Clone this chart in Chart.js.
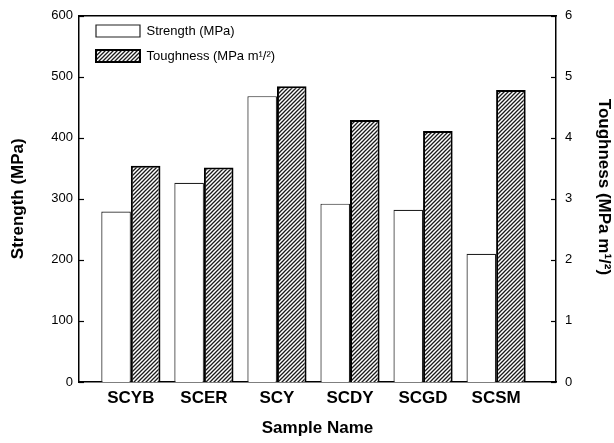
<!DOCTYPE html>
<html>
<head>
<meta charset="utf-8">
<script src="https://cdn.jsdelivr.net/npm/chart.js@4/dist/chart.umd.min.js"></script>
<style>
  html, body { margin: 0; padding: 0; background: #fff; }
  #wrap { width: 614px; height: 443px; }
</style>
</head>
<body>
<div id="wrap"><canvas id="c" width="614" height="443"></canvas></div>
<script>
const categories = ['SCYB', 'SCER', 'SCY', 'SCDY', 'SCGD', 'SCSM'];
const strength = [279, 326, 468, 292, 282, 210];
const toughness = [3.54, 3.51, 4.84, 4.29, 4.11, 4.78];
const strengthTicks = [0, 100, 200, 300, 400, 500, 600];
const toughnessTicks = [0, 1, 2, 3, 4, 5, 6];

function hatch() {
  const c = document.createElement('canvas');
  c.width = 4; c.height = 4;
  const g = c.getContext('2d');
  g.fillStyle = '#ffffff';
  g.fillRect(0, 0, 4, 4);
  g.strokeStyle = '#1a1a1a';
  g.lineWidth = 1.3;
  g.beginPath();
  g.moveTo(0, 4); g.lineTo(4, 0);
  g.moveTo(-1, 1); g.lineTo(1, -1);
  g.moveTo(3, 5); g.lineTo(5, 3);
  g.stroke();
  return g.createPattern(c, 'repeat');
}

const font = 'Liberation Sans, Arial, Helvetica, sans-serif';

// draws short inward tick marks on both value axes, at the scales' own tick values
const inwardTicks = {
  id: 'inwardTicks',
  afterDraw(chart) {
    const ctx = chart.ctx;
    ctx.save();
    ctx.strokeStyle = '#000';
    ctx.lineWidth = 1.2;
    [['y', 1], ['y2', -1]].forEach(([id, dir]) => {
      const s = chart.scales[id];
      const x0 = dir > 0 ? chart.chartArea.left : chart.chartArea.right;
      s.ticks.forEach(t => {
        const py = Math.round(s.getPixelForValue(t.value)) + 0.5;
        ctx.beginPath();
        ctx.moveTo(x0, py);
        ctx.lineTo(x0 + dir * 5, py);
        ctx.stroke();
      });
    });
    ctx.restore();
  }
};

// moves the legend block inside the plot frame
const legendInset = {
  id: 'legendInset',
  afterLayout(chart) {
    const lg = chart.legend;
    if (!lg) return;
    lg.left = chart.chartArea.left + 5;
    lg.top = chart.chartArea.top - 3;
  }
};

new Chart(document.getElementById('c'), {
  type: 'bar',
  plugins: [inwardTicks, legendInset],
  data: {
    datasets: [
      {
        label: 'Strength (MPa)',
        data: strength.map((v, i) => ({ x: i, y: v })),
        backgroundColor: '#ffffff',
        borderColor: '#222222',
        borderWidth: 1.2,
        yAxisID: 'y',
        xAxisID: 'x'
      },
      {
        label: 'Toughness (MPa m¹/²)',
        data: toughness.map((v, i) => ({ x: i, y: v })),
        backgroundColor: hatch(),
        borderColor: '#000000',
        borderWidth: 2,
        yAxisID: 'y2',
        xAxisID: 'x'
      }
    ]
  },
  options: {
    responsive: false,
    animation: false,
    devicePixelRatio: 1,
    layout: { padding: { top: 5, left: 0, right: 0, bottom: 0 } },
    datasets: { bar: { categoryPercentage: 0.81, barPercentage: 1.0 } },
    plugins: {
      tooltip: { enabled: false },
      legend: {
        position: 'chartArea',
        align: 'start',
        labels: {
          boxWidth: 44,
          boxHeight: 12,
          padding: 12,
          color: '#000',
          font: { family: font, size: 13 }
        }
      }
    },
    scales: {
      x: {
        type: 'linear',
        position: 'bottom',
        min: -0.71,
        max: 5.82,
        offset: false,
        afterBuildTicks: (s) => { s.ticks = categories.map((_, i) => ({ value: i })); },
        afterFit: (s) => { s.height = 61; },
        grid: { display: false, drawTicks: false },
        border: { display: true, color: '#000', width: 1.5 },
        ticks: {
          color: '#000',
          padding: 6,
          maxRotation: 0,
          autoSkip: false,
          font: { family: font, size: 17, weight: 'bold' },
          callback: (v) => categories[v]
        },
        title: {
          display: true,
          text: 'Sample Name',
          color: '#000',
          padding: { top: 8, bottom: 4 },
          font: { family: font, size: 17, weight: 'bold' }
        }
      },
      xTop: {
        type: 'linear',
        position: 'top',
        display: true,
        afterFit: (s) => { s.height = 0; },
        grid: { display: false, drawTicks: false },
        ticks: { display: false },
        border: { display: true, color: '#000', width: 1.5 }
      },
      y: {
        type: 'linear',
        position: 'left',
        min: 0,
        max: 600,
        afterBuildTicks: (s) => { s.ticks = strengthTicks.map(v => ({ value: v })); },
        afterFit: (s) => { s.width = 79; },
        grid: { display: false, drawTicks: false },
        border: { display: true, color: '#000', width: 1.5 },
        ticks: { color: '#000', padding: 6, font: { family: font, size: 13, lineHeight: 1.0 } },
        title: {
          display: true,
          text: 'Strength (MPa)',
          color: '#000',
          padding: { top: 8, bottom: 0 },
          font: { family: font, size: 17, weight: 'bold' }
        }
      },
      y2: {
        type: 'linear',
        position: 'right',
        min: 0,
        max: 6,
        afterBuildTicks: (s) => { s.ticks = toughnessTicks.map(v => ({ value: v })); },
        afterFit: (s) => { s.width = 58; },
        grid: { display: false, drawTicks: false },
        border: { display: true, color: '#000', width: 1.5 },
        ticks: { color: '#000', padding: 9, font: { family: font, size: 13, lineHeight: 1.0 } },
        title: {
          display: true,
          text: 'Toughness (MPa m¹/²)     ',
          color: '#000',
          padding: { top: 0, bottom: 4 },
          font: { family: font, size: 17, weight: 'bold' }
        }
      }
    }
  }
});
</script>
</body>
</html>
